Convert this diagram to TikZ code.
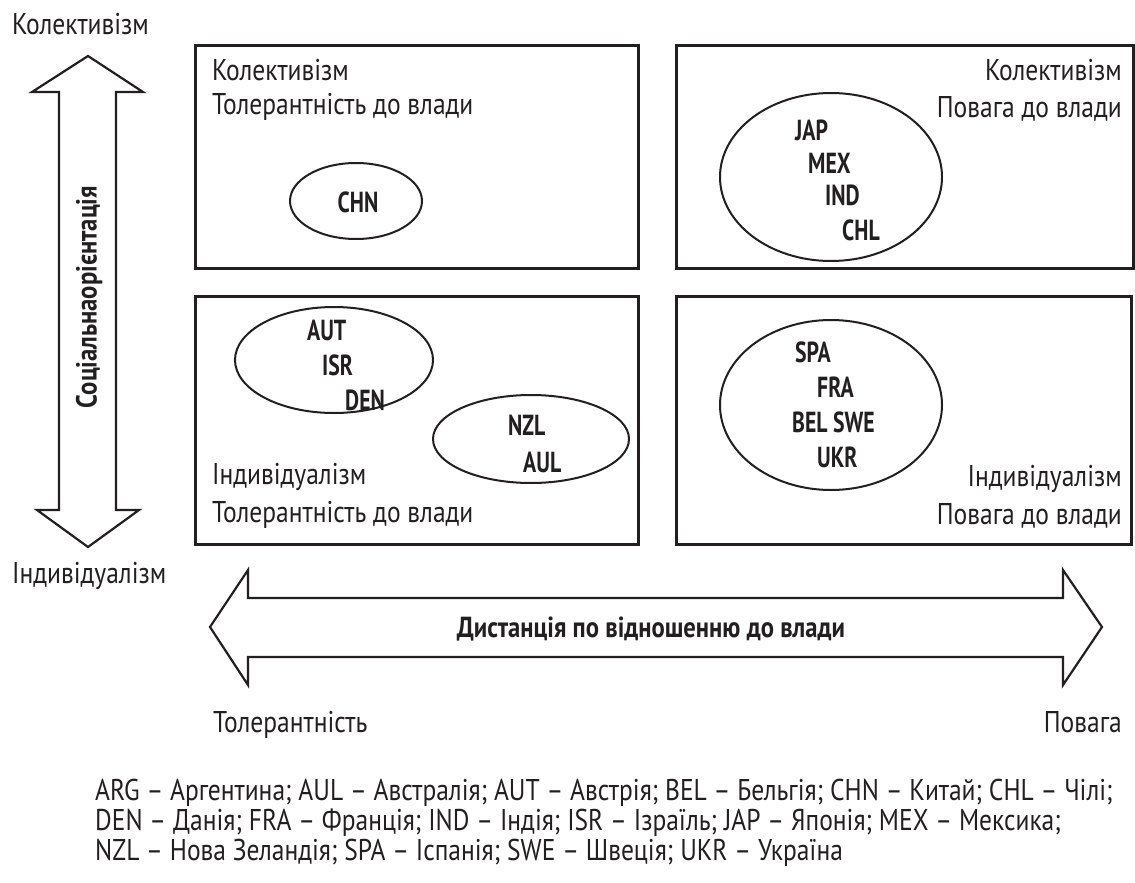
\documentclass[tikz,border=0pt]{standalone}
\usepackage{fontspec}
\usetikzlibrary{shapes.geometric}
\setmainfont[FakeStretch=0.85]{PT Sans}
\newfontfamily\codefont[FakeStretch=0.75]{PT Sans}
\definecolor{ink}{HTML}{231F20}
\begin{document}
\begin{tikzpicture}[x=1pt,y=-1pt,
  lbl/.style={inner sep=0pt, text=ink, font=\fontsize{30}{32}\selectfont, text height=21pt, text depth=0pt},
  code/.style={lbl, font=\fontsize{29}{32}\codefont\bfseries, anchor=west},
  quad/.style={draw=ink, line width=2.8pt, inner sep=0pt, anchor=north west},
  grp/.style={draw=ink, ellipse, line width=2pt, inner sep=0pt},
  bigarrow/.style={draw=ink, line width=2.2pt, line join=miter}]
\useasboundingbox (0,0) rectangle (1135,883);
\fill[white] (0,0) rectangle (1135,883);

% quadrant boxes
\node[quad, minimum width=443pt, minimum height=223pt] (tl) at (194,44) {};
\node[quad, minimum width=457pt, minimum height=223pt] (tr) at (675,44) {};
\node[quad, minimum width=443pt, minimum height=248pt] (bl) at (194,295) {};
\node[quad, minimum width=455pt, minimum height=248pt] (br) at (675,295) {};

% vertical arrow
\draw[bigarrow] (88,56) -- (143,92) -- (116,92) -- (116,510) -- (139,510) -- (88,547)
  -- (37,510) -- (59,510) -- (59,92) -- (32,92) -- cycle;
\node[lbl, font=\fontsize{29}{32}\selectfont\bfseries, rotate=90] (soc) at (86,297) {Соціальнаорієнтація};
\node[lbl, anchor=west] (kol) at (12,24) {Колективізм};
\node[lbl, anchor=west] (ind) at (12,573) {Індивідуалізм};

% horizontal arrow
\draw[bigarrow] (210,627) -- (248,570) -- (248,598) -- (1063,598) -- (1063,570) -- (1102,627)
  -- (1063,685) -- (1063,657) -- (248,657) -- (248,685) -- cycle;
\node[lbl, font=\fontsize{29}{32}\selectfont\bfseries] (dist) at (651,627) {Дистанція по відношенню до влади};
\node[lbl, anchor=west] (tol) at (213,722) {Толерантність};
\node[lbl, anchor=east] (pov) at (1122,722) {Повага};

% top-left
\node[lbl, anchor=west] (tl1) at (212,70) {Колективізм};
\node[lbl, anchor=west] (tl2) at (212,104) {Толерантність до влади};
\node[grp, minimum width=132pt, minimum height=76pt] (e1) at (356,201) {};
\node[code, anchor=center] (chn) at (358,202) {CHN};

% top-right
\node[lbl, anchor=east] (tr1) at (1122,70) {Колективізм};
\node[lbl, anchor=east] (tr2) at (1122,107) {Повага до влади};
\node[grp, minimum width=222pt, minimum height=168pt] (e2) at (831,177) {};
\node[code] (jap) at (795,130) {JAP};
\node[code] (mex) at (808,163) {MEX};
\node[code] (indc) at (825,195) {IND};
\node[code] (chl) at (842,230) {CHL};

% bottom-left
\node[grp, minimum width=198pt, minimum height=106pt] (e3) at (334,360) {};
\node[code] (aut) at (307,330) {AUT};
\node[code] (isr) at (322,365) {ISR};
\node[code] (den) at (345,400) {DEN};
\node[grp, minimum width=196pt, minimum height=88pt] (e4) at (531,439) {};
\node[code] (nzl) at (508,425) {NZL};
\node[code] (aul) at (523,462) {AUL};
\node[lbl, anchor=west] (bl1) at (212,474) {Індивідуалізм};
\node[lbl, anchor=west] (bl2) at (212,512) {Толерантність до влади};

% bottom-right
\node[grp, minimum width=222pt, minimum height=170pt] (e5) at (831,405) {};
\node[code] (spa) at (795,352) {SPA};
\node[code] (fra) at (817,387) {FRA};
\node[code] (bel) at (792,422) {BEL SWE};
\node[code] (ukr) at (817,457) {UKR};
\node[lbl, anchor=east] (br1) at (1122,476) {Індивідуалізм};
\node[lbl, anchor=east] (br2) at (1122,514) {Повага до влади};

% legend
\node[lbl, anchor=west] (lg1) at (95,790) {ARG – Аргентина; AUL – Австралія; AUT – Австрія; BEL – Бельгія; CHN – Китай; CHL – Чілі;};
\node[lbl, anchor=west] (lg2) at (95,820) {DEN – Данія; FRA – Франція; IND – Індія; ISR – Ізраїль; JAP – Японія; MEX – Мексика;};
\node[lbl, anchor=west] (lg3) at (95,850) {NZL – Нова Зеландія; SPA – Іспанія; SWE – Швеція; UKR – Україна};
\end{tikzpicture}
\end{document}
